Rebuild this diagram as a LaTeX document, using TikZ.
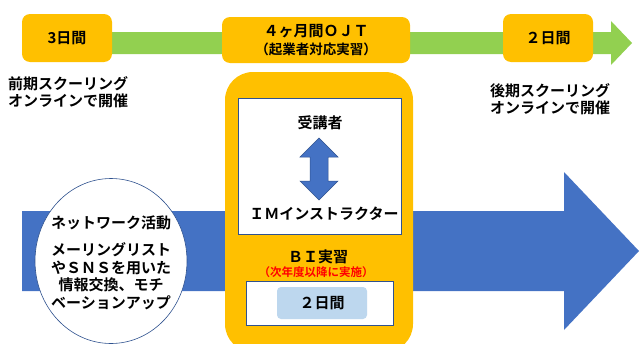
\documentclass[tikz,border=0pt]{standalone}
\usepackage{fontspec}
\setmainfont{Noto Sans CJK JP}[BoldFont={* Bold}]
\definecolor{myorange}{HTML}{FFC000}
\definecolor{mygreen}{HTML}{92D050}
\definecolor{myblue}{HTML}{4472C4}
\definecolor{myline}{HTML}{2F528F}
\definecolor{mylight}{HTML}{BDD7EE}
\definecolor{myred}{HTML}{FF0000}
\usetikzlibrary{positioning,calc,shapes.geometric}

\begin{document}
\begin{tikzpicture}[x=1pt,y=-1pt,
  every node/.style={inner sep=0pt,font=\bfseries\fontsize{15}{17.5}\selectfont},
  daybox/.style={fill=myorange,rounded corners=8pt,minimum width=90pt,minimum height=48pt},
  wbox/.style={draw=myline,line width=0.6pt,fill=white},
  note/.style={align=left,anchor=west},
  small/.style={font=\bfseries\fontsize{11.5}{13}\selectfont}
  ]
  \useasboundingbox (0,0) rectangle (640,343);

  % the schooling line
  \fill[mygreen] (30,32) -- (611,32) -- (611,21) -- (632,43)
    -- (611,65) -- (611,54) -- (30,54) -- cycle;
  \node[daybox] (d3) at (67,38) {3日間};
  \node[daybox,minimum width=188pt,minimum height=46pt,align=center,
    font=\bfseries\fontsize{15}{18}\selectfont] (ojt) at (316,40)
    {４ヶ月間ＯＪＴ\\{\fontsize{13.5}{15}\selectfont（起業者対応実習）}};
  \node[daybox] (d2) at (548,38) {２日間};
  \node[note] (zk) at (8,92) {前期スクーリング\\オンラインで開催};
  \node[note] (kk) at (490,99) {後期スクーリング\\オンラインで開催};

  % the network line
  \fill[myblue] (22,211) -- (564,211) -- (564,172) -- (639,251)
    -- (564,330) -- (564,291) -- (22,291) -- cycle;
  \node[wbox,ellipse,minimum width=152pt,minimum height=165pt] (nw) at (111,261) {};
  \node (na) at (111,223) {ネットワーク活動};
  \node[align=center] (nb) at (111,276)
    {メーリングリスト\\やＳＮＳを用いた\\情報交換、モチ\\ベーションアップ};

  % the OJT area
  \node[fill=myorange,rounded corners=28pt,minimum width=188pt,minimum height=280pt]
    (oa) at (319,212) {};
  \node[wbox,minimum width=163pt,minimum height=136pt] (wb) at (319.5,166) {};
  \node (ju) at (320,123) {受講者};
  \node (im) at (324,214) {ＩＭインストラクター};
  \coordinate (dt) at (319,138);
  \coordinate (db) at (319,200);
  \draw[myline,fill=myblue,line width=0.5pt] (dt) -- ($(dt)+(19,19)$) -- ($(dt)+(9,19)$)
    -- ($(db)+(9,-19)$) -- ($(db)+(19,-19)$) -- (db) -- ($(db)+(-19,-19)$)
    -- ($(db)+(-9,-19)$) -- ($(dt)+(-9,19)$) -- ($(dt)+(-19,19)$) -- cycle;

  % the BI practice
  \node (bi) at (318,257) {ＢＩ実習};
  \node[small,text=myred] (bj) at (316,272) {（次年度以降に実施）};
  \node[wbox,minimum width=147pt,minimum height=44pt] (wb2) at (319.5,303) {};
  \node[fill=mylight,rounded corners=4pt,minimum width=90pt,minimum height=32pt]
    (bd) at (322,303) {２日間};
\end{tikzpicture}
\end{document}
